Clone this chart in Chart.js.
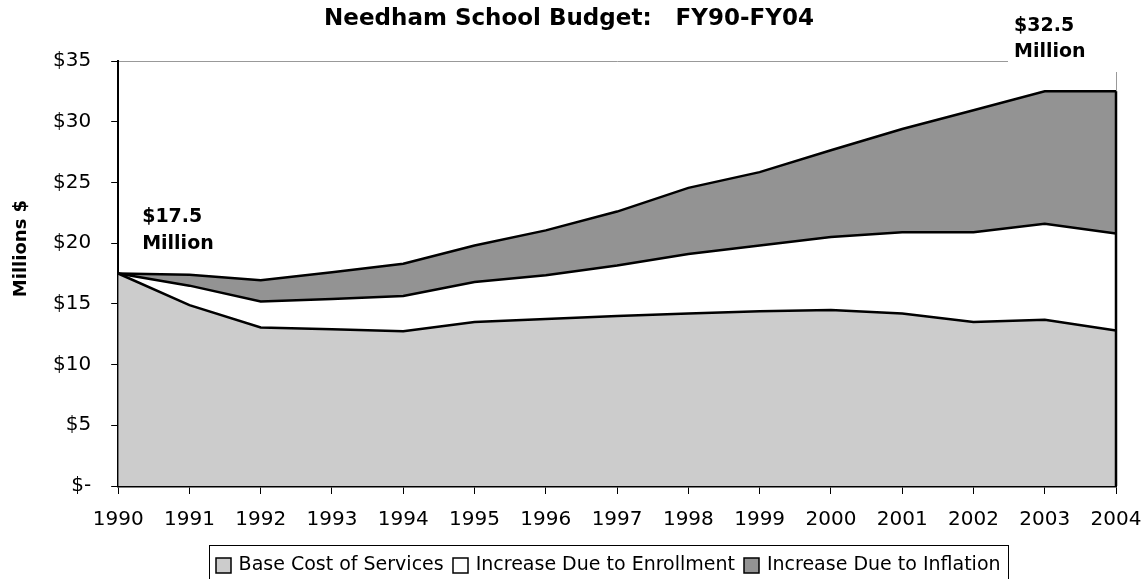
<!DOCTYPE html>
<html>
<head>
<meta charset="UTF-8">
<title>Needham School Budget: FY90-FY04</title>
<script src="https://cdn.jsdelivr.net/npm/chart.js"></script>
<style>
  body { margin: 0; background: #fff; }
  .chart-box { width: 1146px; height: 579px; position: relative; }
</style>
</head>
<body>
<div class="chart-box"><canvas id="budgetChart"></canvas></div>
<script>
// budget components, millions of dollars
var years = ['1990', '1991', '1992', '1993', '1994', '1995', '1996', '1997', '1998', '1999', '2000', '2001', '2002', '2003', '2004'];
var baseCost = [17.5, 14.9, 13.05, 12.9, 12.75, 13.5, 13.75, 14.0, 14.2, 14.4, 14.5, 14.2, 13.5, 13.7, 12.8];
var enrollmentIncrease = [0, 1.6, 2.15, 2.5, 2.9, 3.3, 3.6, 4.15, 4.9, 5.4, 6.0, 6.7, 7.4, 7.9, 8.0];
var inflationIncrease = [0, 0.9, 1.75, 2.2, 2.65, 3.0, 3.7, 4.45, 5.45, 6.05, 7.15, 8.5, 10.05, 10.9, 11.7];
var seriesNames = ['Base Cost of Services', 'Increase Due to Enrollment', 'Increase Due to Inflation'];
var seriesColors = ['#cccccc', '#ffffff', '#939393'];
var chartTitle = 'Needham School Budget:   FY90-FY04';

var FONT = 'DejaVu Sans';

function totalAt(i) {
    return baseCost[i] + enrollmentIncrease[i] + inflationIncrease[i];
}

// title, $17.5 / $32.5 call-outs, y title, framed legend, right edge of the area
var extras = {
    id: 'extras',
    afterDatasetsDraw: function(chart) {
        var ctx = chart.ctx, x = chart.scales.x, y = chart.scales.y;
        var last = years.length - 1;
        ctx.save();
        ctx.strokeStyle = '#000';
        ctx.lineWidth = 2.5;
        ctx.beginPath();
        ctx.moveTo(x.getPixelForValue(last), y.getPixelForValue(totalAt(last)));
        ctx.lineTo(x.getPixelForValue(last), y.getPixelForValue(0));
        ctx.stroke();
        ctx.restore();
    },
    afterDraw: function(chart) {
        var ctx = chart.ctx, x = chart.scales.x, y = chart.scales.y;
        var area = chart.chartArea;
        var last = years.length - 1;
        ctx.save();

        // title
        ctx.font = 'bold 23px ' + FONT;
        ctx.fillStyle = '#000';
        ctx.textAlign = 'center';
        ctx.textBaseline = 'middle';
        ctx.fillText(chartTitle, 569, 19);

        ctx.font = 'bold 19px ' + FONT;
        ctx.textAlign = 'left';
        ctx.textBaseline = 'alphabetic';

        // first year
        var x0 = x.getPixelForValue(0) + 24;
        var y0 = y.getPixelForValue(totalAt(0));
        ctx.fillText('$' + totalAt(0).toFixed(1), x0, y0 - 52);
        ctx.fillText('Million', x0, y0 - 25);

        // last year, on a white patch over the frame
        var x1 = x.getPixelForValue(last) - 102;
        ctx.fillStyle = '#fff';
        ctx.fillRect(x1 - 6, 0, 140, area.top + 11);
        ctx.fillStyle = '#000';
        ctx.fillText('$' + totalAt(last).toFixed(1), x1, 31);
        ctx.fillText('Million', x1, 57);

        // y axis title
        ctx.save();
        ctx.font = 'bold 18px ' + FONT;
        ctx.translate(21, (area.top + area.bottom) / 2 - 25);
        ctx.rotate(-Math.PI / 2);
        ctx.textAlign = 'center';
        ctx.textBaseline = 'middle';
        ctx.fillText('Millions $', 0, 0);
        ctx.restore();

        // legend
        var box = 15, gap = 8, itemGap = 9;
        ctx.font = '19px ' + FONT;
        var widths = seriesNames.map(function(n) { return ctx.measureText(n).width; });
        var total = widths.reduce(function(a, w) { return a + box + gap + w; }, 0) + itemGap * (seriesNames.length - 1);
        var lx = (area.left + area.right) / 2 - 9 - total / 2;
        var ly = 565;
        ctx.lineWidth = 1;
        ctx.strokeStyle = '#000';
        ctx.strokeRect(Math.round(lx - 7) + 0.5, 545.5, Math.round(total + 14), 50);
        ctx.textBaseline = 'middle';
        seriesNames.forEach(function(name, i) {
            ctx.fillStyle = seriesColors[i];
            ctx.fillRect(Math.round(lx), ly - 7, box, box);
            ctx.lineWidth = 1.5;
            ctx.strokeRect(Math.round(lx), ly - 7, box, box);
            ctx.fillStyle = '#000';
            ctx.fillText(name, lx + box + gap, ly);
            lx += box + gap + widths[i] + itemGap;
        });
        ctx.restore();
    }
};

var datasets = [baseCost, enrollmentIncrease, inflationIncrease].map(function(vals, i) {
    return {
        label: seriesNames[i],
        data: vals,
        backgroundColor: seriesColors[i],
        borderColor: '#000',
        borderWidth: 2.5,
        fill: i === 0 ? 'origin' : '-1',
        pointRadius: 0,
        tension: 0
    };
});

// keep the edge tick labels from pushing the plot inward
function noEdgePadding(scale) {
    scale.paddingLeft = 0;
    scale.paddingRight = 0;
    scale.paddingTop = 0;
    scale.paddingBottom = 0;
}

new Chart(document.getElementById('budgetChart'), {
    type: 'line',
    data: { labels: years, datasets: datasets },
    options: {
        responsive: true,
        maintainAspectRatio: false,
        animation: false,
        layout: { padding: { left: 33, right: 30, top: 61, bottom: 33 } },
        plugins: {
            title: { display: false },
            legend: { display: false },
            tooltip: { enabled: false }
        },
        scales: {
            x: {
                offset: false,
                afterFit: noEdgePadding,
                grid: {
                    drawOnChartArea: true,
                    color: function(c) { return c.index === years.length - 1 ? '#999' : 'rgba(0,0,0,0)'; },
                    tickColor: '#000',
                    tickLength: 8
                },
                border: { color: '#000', width: 2.5 },
                ticks: {
                    color: '#000',
                    font: { family: FONT, size: 20 },
                    padding: 14,
                    maxRotation: 0,
                    autoSkip: false
                }
            },
            y: {
                stacked: true,
                min: 0,
                max: 35,
                afterFit: noEdgePadding,
                grid: {
                    color: function(c) { return c.tick && c.tick.value === 35 ? '#999' : 'rgba(0,0,0,0)'; },
                    tickColor: '#000',
                    tickLength: 7
                },
                border: { color: '#000', width: 2 },
                ticks: {
                    stepSize: 5,
                    color: '#000',
                    font: { family: FONT, size: 20 },
                    padding: 20,
                    callback: function(v) { return v === 0 ? '$-' : '$' + v; }
                }
            }
        }
    },
    plugins: [extras]
});
</script>
</body>
</html>
